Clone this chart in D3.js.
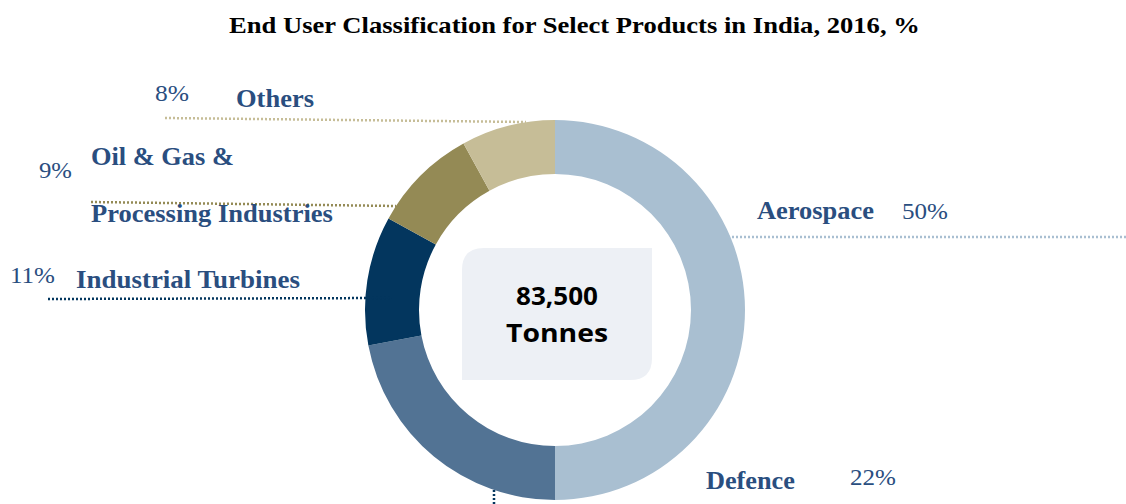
<!DOCTYPE html>
<html><head><meta charset="utf-8">
<script src="https://cdn.jsdelivr.net/npm/d3@7"></script>
<style>body{margin:0;background:#fff}svg{display:block}</style>
</head><body>
<svg id="chart" width="1126" height="504"></svg>
<script>
const categories = ["Aerospace","Defence","Industrial Turbines","Oil & Gas & Processing Industries","Others"];
const values = [50,22,11,9,8];
const colors = ["#A9BFD1","#527394","#03365E","#948A55","#C6BD97"];
const totalLabel = ["83,500","Tonnes"];
const title = "End User Classification for Select Products in India, 2016, %";

// label layout (annotation placement)
const labelLayout = [
  {lines:["Aerospace"], lx:757, ly:[219], lw:[117], px:902, py:219, pw:46, line:[[728,237],[1126,237]], color:"#A9BFD1"},
  {lines:["Defence"], lx:706, ly:[489], lw:[89], px:850, py:485, pw:46, line:[[494,490],[494,504]], color:"#03365E"},
  {lines:["Industrial Turbines"], lx:76, ly:[288], lw:[224], px:10, py:283, pw:45, line:[[48,299],[392,298]], color:"#03365E"},
  {lines:["Oil & Gas &","Processing Industries"], lx:91, ly:[165,222], lw:[143,242], px:39, py:178, pw:33, line:[[91,202],[396,206]], color:"#948A55"},
  {lines:["Others"], lx:236, ly:[107], lw:[78], px:155, py:101, pw:34, line:[[165,118],[526,122]], color:"#C6BD97"}
];

const svg = d3.select("#chart");
const cx = 555, cy = 310, rO = 190, rI = 136;
const serif = "'Liberation Serif','Times New Roman',serif";

function fit(sel, x, y, w){
  const n = sel.node().getComputedTextLength();
  sel.attr("x",0).attr("y",0).attr("transform",`translate(${x},${y}) scale(${w/n},1)`);
  return sel;
}

fit(svg.append("text").attr("font-family",serif).attr("font-weight","bold")
  .attr("font-size",24).attr("fill","#000").text(title), 229, 33, 691);

const pie = d3.pie().sort(null).value(d=>d.v).startAngle(0).endAngle(2*Math.PI);
const arcs = pie(categories.map((c,i)=>({c, v:values[i], col:colors[i]})));
const arc = d3.arc().innerRadius(rI).outerRadius(rO);
const g = svg.append("g").attr("transform",`translate(${cx},${cy})`);
g.selectAll("path").data(arcs).join("path").attr("d",arc).attr("fill",d=>d.data.col);

labelLayout.forEach((L,i)=>{
  svg.append("line").attr("x1",L.line[0][0]).attr("y1",L.line[0][1])
    .attr("x2",L.line[1][0]).attr("y2",L.line[1][1])
    .attr("stroke",L.color).attr("stroke-width",2.5).attr("stroke-dasharray","2 2");
  L.lines.forEach((t,j)=>{
    fit(svg.append("text").attr("font-family",serif).attr("font-weight","bold")
      .attr("font-size",25).attr("fill","#2A4E7F").text(t), L.lx, L.ly[j], L.lw[j]);
  });
  fit(svg.append("text").attr("font-family",serif)
    .attr("font-size",24).attr("fill","#2A4E7F").text(values[i]+"%"), L.px, L.py, L.pw);
});

// center box: rounded top-left & bottom-right
const bx0=462, by0=248, bx1=652, by1=380, r=22;
const p = d3.path();
p.moveTo(bx0+r,by0); p.lineTo(bx1,by0); p.lineTo(bx1,by1-r);
p.quadraticCurveTo(bx1,by1,bx1-r,by1); p.lineTo(bx0,by1); p.lineTo(bx0,by0+r);
p.quadraticCurveTo(bx0,by0,bx0+r,by0); p.closePath();
svg.append("path").attr("d",p.toString()).attr("fill","#EDF0F5");
const tl = [82,102], tb=[305,342];
totalLabel.forEach((t,i)=>{
  fit(svg.append("text").attr("font-family","'Open Sans','Noto Sans',sans-serif").attr("font-weight","bold")
    .attr("font-size",25).attr("fill","#000").text(t), 557-tl[i]/2, tb[i], tl[i]);
});
</script>
</body></html>
